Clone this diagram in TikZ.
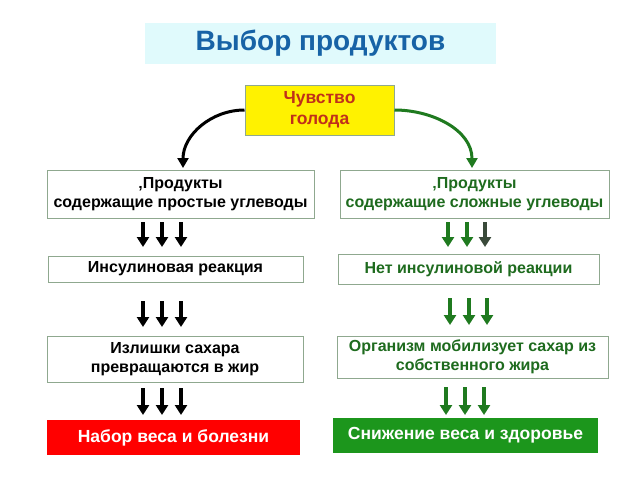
\documentclass[tikz,border=0pt]{standalone}
\usepackage{fontspec}
\setmainfont{Liberation Sans}
\usetikzlibrary{arrows.meta}
\definecolor{titlebg}{HTML}{E0FAFC}
\definecolor{titleblue}{HTML}{1763A6}
\definecolor{hungerred}{HTML}{C0301A}
\definecolor{dgreen}{HTML}{1E6B1E}
\definecolor{agreen}{HTML}{1F7A1F}
\definecolor{agray}{HTML}{3A4A3A}
\definecolor{bordergray}{HTML}{8FA88F}
\definecolor{redfill}{HTML}{FF0000}
\definecolor{greenfill}{HTML}{1C961C}
\tikzset{
  box/.style={draw=bordergray, line width=1pt, fill=white, inner sep=0pt, align=center, font=\bfseries\fontsize{16}{19}\selectfont},
  gbox/.style={box, text=dgreen},
  fat/.style={line width=4.5pt, -{Triangle[width=12pt,length=10pt]}},
  curvearrow/.style={line width=3pt, -{Triangle[width=11pt,length=10pt]}},
}
\begin{document}
\begin{tikzpicture}[x=1pt,y=-1pt]
\useasboundingbox (0,0) rectangle (640,480);
\fill[white] (0,0) rectangle (640,480);
% title
\node[fill=titlebg, minimum width=351, minimum height=41, inner sep=0pt, text=titleblue, font=\bfseries\fontsize{28}{32}\selectfont] (title) at (320.5,43) {Выбор продуктов};
% hunger
\node[draw=bordergray, line width=1pt, fill=yellow, minimum width=149, minimum height=50, inner sep=0pt, align=center, text=hungerred, font=\bfseries\fontsize{17.5}{21}\selectfont] (hunger) at (319.5,110) {Чувство\\голода};
% left column
\node[box, minimum width=267, minimum height=48] (l1) at (180.5,194) {‚Продукты\\содержащие простые углеводы};
\node[box, minimum width=255, minimum height=26] (l2) at (175.5,269) {Инсулиновая реакция};
\node[box, minimum width=256, minimum height=46] (l3) at (175,359) {Излишки сахара\\превращаются в жир};
\node[fill=redfill, minimum width=253, minimum height=35, inner sep=0pt, text=white, font=\bfseries\fontsize{17.5}{21}\selectfont] (l4) at (173.5,437.5) {Набор веса и болезни};
% right column
\node[gbox, minimum width=269, minimum height=48] (r1) at (474.5,194) {‚Продукты\\содержащие сложные углеводы};
\node[gbox, minimum width=261, minimum height=30] (r2) at (468.5,269) {Нет инсулиновой реакции};
\node[gbox, minimum width=271, minimum height=42] (r3) at (472.5,357) {Организм мобилизует сахар из\\собственного жира};
\node[fill=greenfill, minimum width=265, minimum height=35, inner sep=0pt, text=white, font=\bfseries\fontsize{17.5}{21}\selectfont] (r4) at (465.5,435.5) {Снижение веса и здоровье};
% curved arrows
\coordinate (lt) at (183,168);
\coordinate (rt) at (472,168);
\draw[curvearrow, black] (hunger.west) to[out=180,in=90] (lt);
\draw[curvearrow, agreen] (hunger.east) to[out=0,in=90] (rt);
% left triple arrows
\foreach \x in {143,162,181} {
  \draw[fat, black] (\x,222) -- (\x,247);
  \draw[fat, black] (\x,301) -- (\x,327);
  \draw[fat, black] (\x,388) -- (\x,415);
}
% right triple arrows
\draw[fat, agreen] (448,222) -- (448,247);
\draw[fat, agreen] (467,222) -- (467,247);
\draw[fat, agray] (485,222) -- (485,247);
\foreach \x in {450,469,487} \draw[fat, agreen] (\x,298) -- (\x,325);
\foreach \x in {446,465,484} \draw[fat, agreen] (\x,387) -- (\x,415);
\end{tikzpicture}
\end{document}
